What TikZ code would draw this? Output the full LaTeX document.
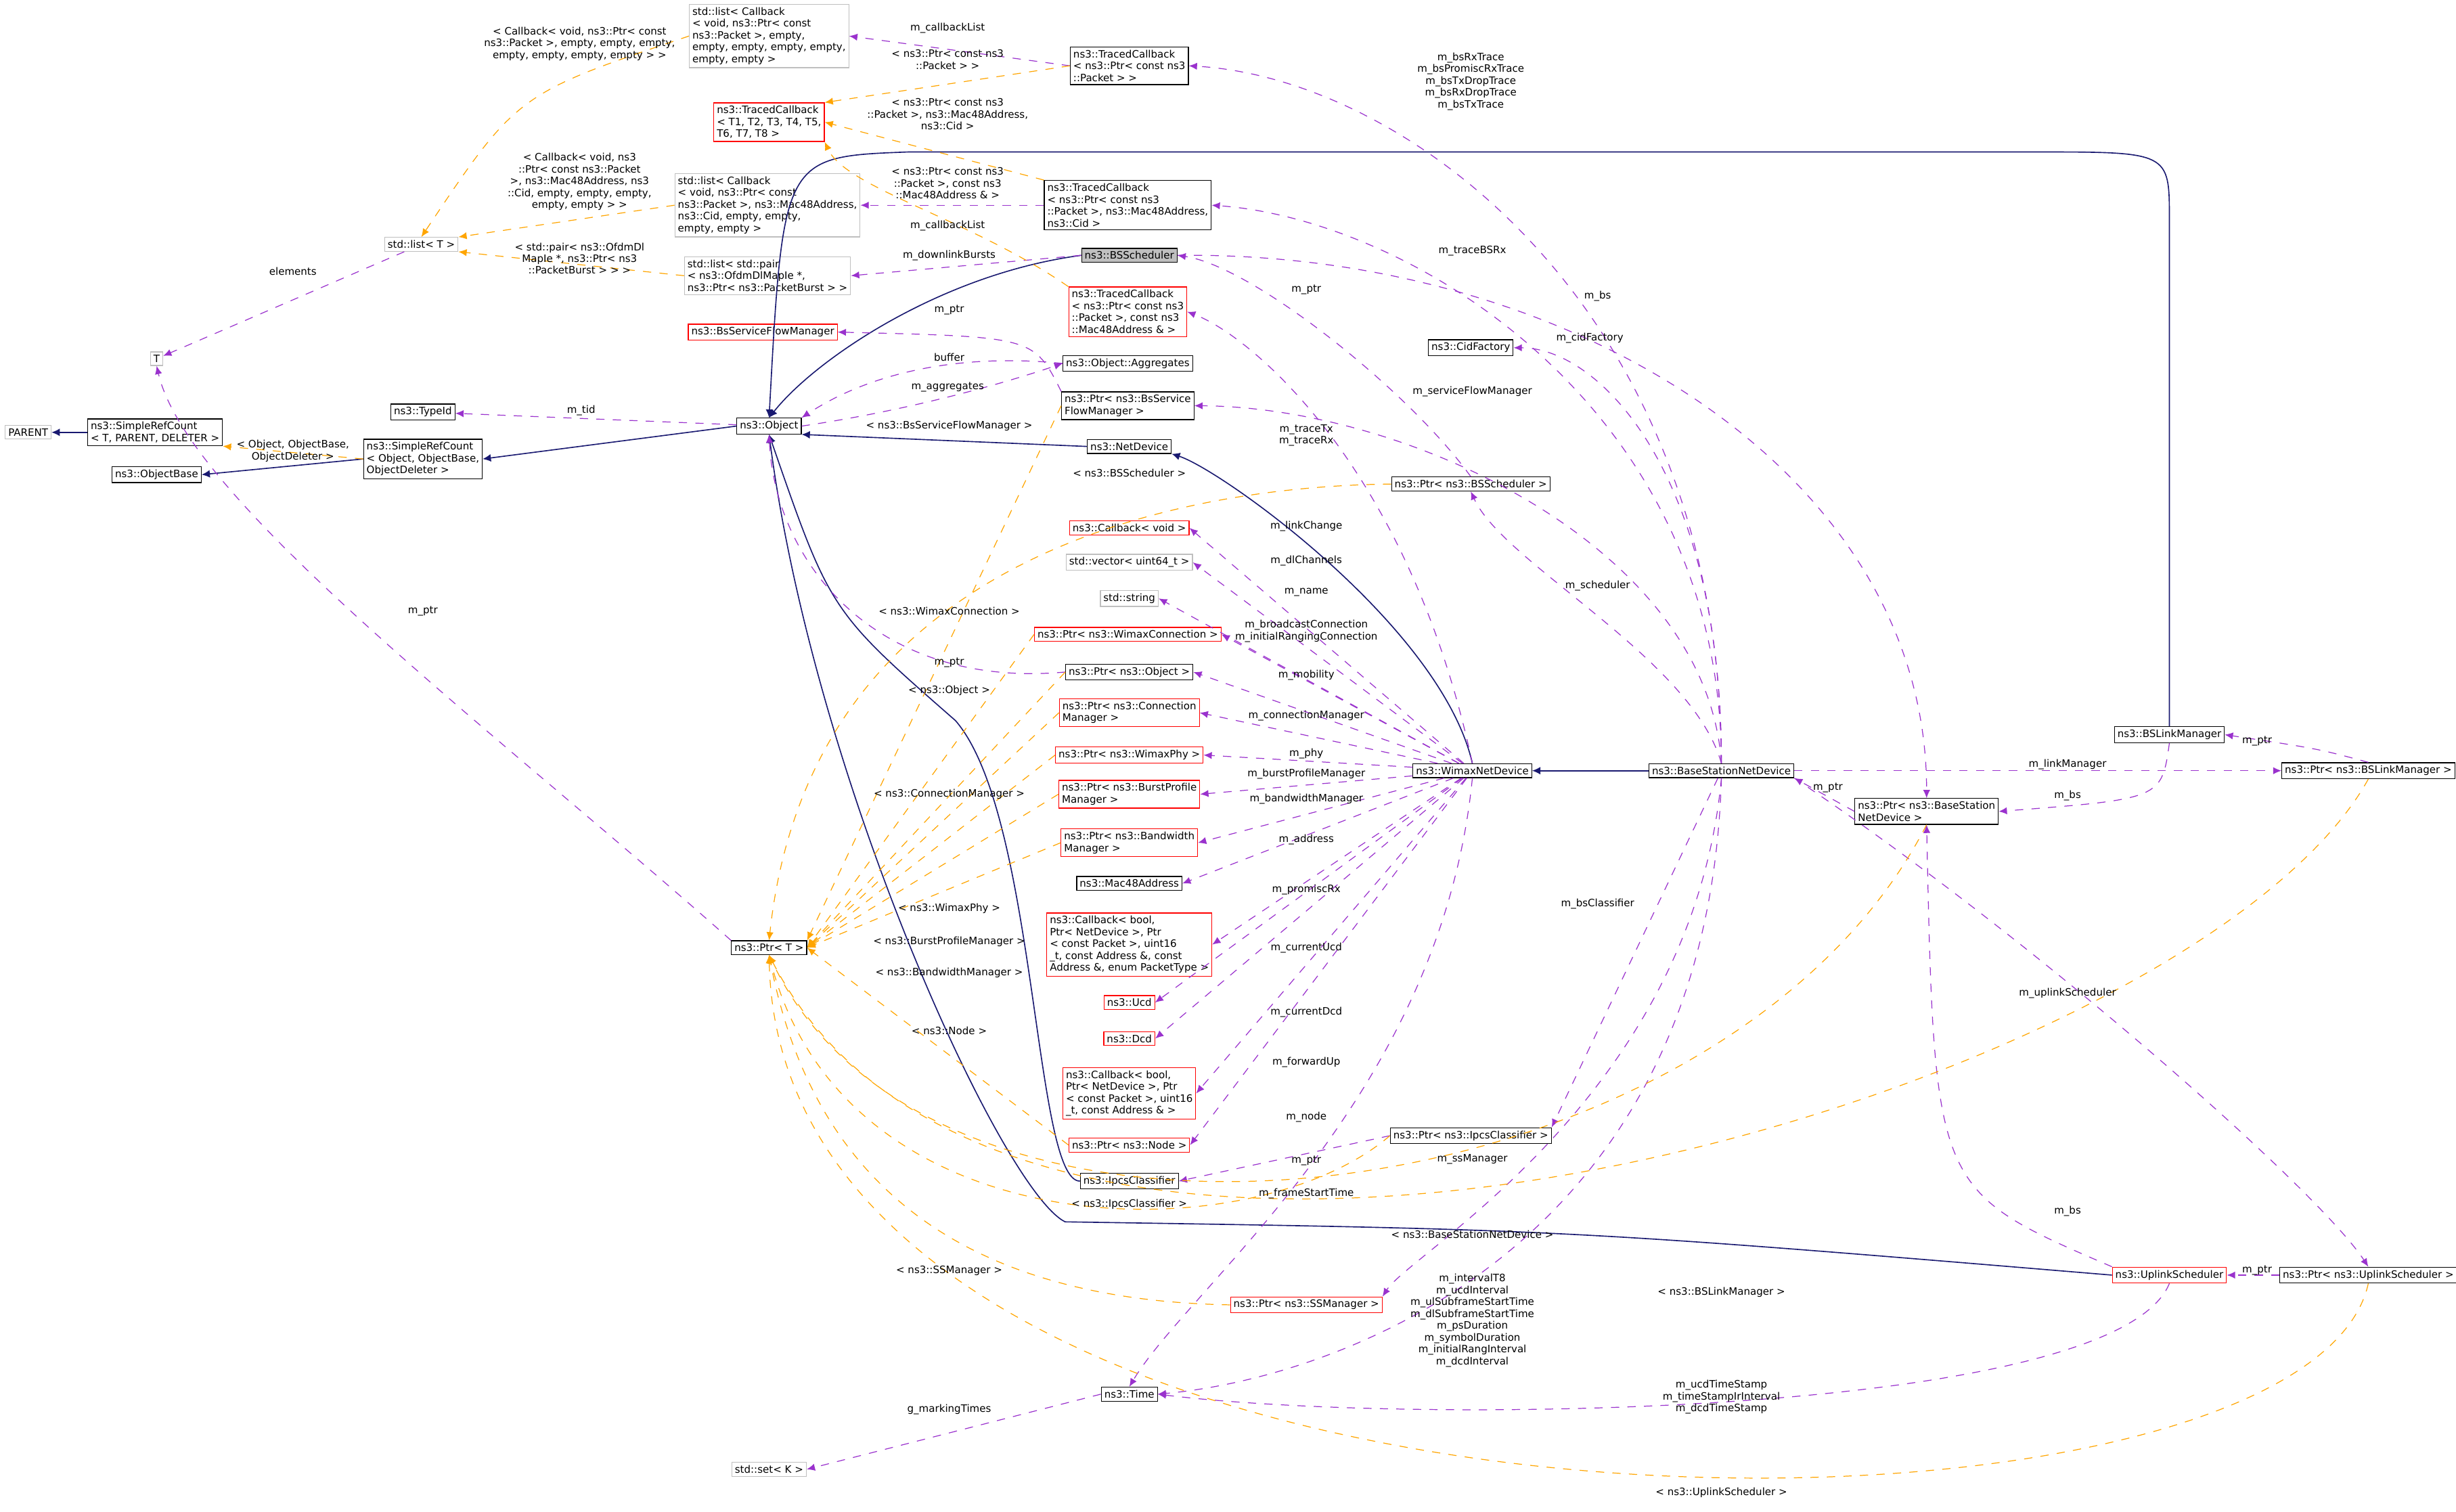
\documentclass[tikz,border=0pt]{standalone}
\usepackage{fontspec}
\setmainfont{DejaVu Sans}
\usetikzlibrary{arrows.meta}
\definecolor{mempurple}{HTML}{9A32CD}
\definecolor{tplorange}{HTML}{FFA500}
\definecolor{inhnavy}{HTML}{191970}
\definecolor{boxgray}{HTML}{BFBFBF}
\tikzset{
  cls/.style={draw=black, fill=white, inner sep=1.1pt, font=\fontsize{3.7}{4.3}\selectfont, align=left, line width=0.3pt},
  redcls/.style={cls, draw=red},
  graycls/.style={cls, draw=boxgray},
  curcls/.style={cls, fill=boxgray},
  lbl/.style={inner sep=0pt, font=\fontsize{3.7}{4.3}\selectfont, align=center},
  mem/.style={draw=mempurple, dashed, line width=0.3pt, -{Latex[length=3pt,width=2.6pt]}},
  tpl/.style={draw=tplorange, dashed, line width=0.3pt, -{Latex[length=3pt,width=2.6pt]}},
  inh/.style={draw=inhnavy, line width=0.4pt, -{Latex[length=3pt,width=2.8pt]}},
}
\begin{document}
\begin{tikzpicture}[x=0.02cm, y=-0.02cm]
\useasboundingbox (0,0) rectangle (1568,965);

% class boxes
\node[graycls] (cblist1) at (491,23) {std::list< Callback\\< void, ns3::Ptr< const\\ ns3::Packet >, empty,\\ empty, empty, empty, empty,\\ empty, empty >};
\node[cls] (tcb1) at (721,42) {ns3::TracedCallback\\< ns3::Ptr< const ns3\\::Packet > >};
\node[redcls] (tcbT) at (491,78) {ns3::TracedCallback\\< T1, T2, T3, T4, T5,\\ T6, T7, T8 >};
\node[graycls] (cblist2) at (490,131) {std::list< Callback\\< void, ns3::Ptr< const\\ ns3::Packet >, ns3::Mac48Address,\\ ns3::Cid, empty, empty,\\ empty, empty >};
\node[cls] (tcb2) at (720,131) {ns3::TracedCallback\\< ns3::Ptr< const ns3\\::Packet >, ns3::Mac48Address,\\ ns3::Cid >};
\node[graycls] (listT) at (269,156) {std::list< T >};
\node[graycls] (burstlist) at (490,176) {std::list< std::pair\\< ns3::OfdmDlMapIe *,\\ ns3::Ptr< ns3::PacketBurst > >};
\node[curcls] (bss) at (721,163) {ns3::BSScheduler};
\node[redcls] (tcb3) at (720,199) {ns3::TracedCallback\\< ns3::Ptr< const ns3\\::Packet >, const ns3\\::Mac48Address \& >};
\node[redcls] (bssfm) at (487,212) {ns3::BsServiceFlowManager};
\node[graycls] (T) at (100,229) {T};
\node[cls] (cidf) at (939,222) {ns3::CidFactory};
\node[cls] (aggr) at (720,232) {ns3::Object::Aggregates};
\node[cls] (pbssfm) at (720,259) {ns3::Ptr< ns3::BsService\\FlowManager >};
\node[cls] (typeid) at (270,263) {ns3::TypeId};
\node[cls] (object) at (491,272) {ns3::Object};
\node[graycls] (parent) at (18,276) {PARENT};
\node[cls] (src1) at (99,276) {ns3::SimpleRefCount\\< T, PARENT, DELETER >};
\node[cls] (src2) at (270,293) {ns3::SimpleRefCount\\< Object, ObjectBase,\\ ObjectDeleter >};
\node[cls] (netdev) at (721,285) {ns3::NetDevice};
\node[cls] (objbase) at (100,303) {ns3::ObjectBase};
\node[cls] (pbss) at (939,309) {ns3::Ptr< ns3::BSScheduler >};
\node[redcls] (cbvoid) at (721,337) {ns3::Callback< void >};
\node[graycls] (vec) at (721,359) {std::vector< uint64\_t >};
\node[graycls] (str) at (721,382) {std::string};
\node[redcls] (pwc) at (720,405) {ns3::Ptr< ns3::WimaxConnection >};
\node[cls] (pobj) at (721,429) {ns3::Ptr< ns3::Object >};
\node[redcls] (pcm) at (721,455) {ns3::Ptr< ns3::Connection\\Manager >};
\node[redcls] (pwp) at (721,482) {ns3::Ptr< ns3::WimaxPhy >};
\node[redcls] (pbpm) at (721,507) {ns3::Ptr< ns3::BurstProfile\\Manager >};
\node[redcls] (pbm) at (721,538) {ns3::Ptr< ns3::Bandwidth\\Manager >};
\node[cls] (mac) at (721,564) {ns3::Mac48Address};
\node[redcls] (cbbool1) at (721,603) {ns3::Callback< bool,\\ Ptr< NetDevice >, Ptr\\< const Packet >, uint16\\\_t, const Address \&, const\\ Address \&, enum PacketType >};
\node[redcls] (ucd) at (721,640) {ns3::Ucd};
\node[redcls] (dcd) at (721,663) {ns3::Dcd};
\node[redcls] (cbbool2) at (721,698) {ns3::Callback< bool,\\ Ptr< NetDevice >, Ptr\\< const Packet >, uint16\\\_t, const Address \& >};
\node[redcls] (pnode) at (721,731) {ns3::Ptr< ns3::Node >};
\node[cls] (ipcs) at (721,754) {ns3::IpcsClassifier};
\node[cls] (pipcs) at (939,725) {ns3::Ptr< ns3::IpcsClassifier >};
\node[cls] (ptrT) at (491,605) {ns3::Ptr< T >};
\node[cls] (wnd) at (940,492) {ns3::WimaxNetDevice};
\node[cls] (bsnd) at (1099,492) {ns3::BaseStationNetDevice};
\node[cls] (bslm) at (1385,469) {ns3::BSLinkManager};
\node[cls] (pbsnd) at (1230,518) {ns3::Ptr< ns3::BaseStation\\NetDevice >};
\node[cls] (pbslm) at (1512,492) {ns3::Ptr< ns3::BSLinkManager >};
\node[redcls] (pss) at (834,833) {ns3::Ptr< ns3::SSManager >};
\node[redcls] (ulsch) at (1385,814) {ns3::UplinkScheduler};
\node[cls] (pulsch) at (1512,814) {ns3::Ptr< ns3::UplinkScheduler >};
\node[cls] (time) at (721,890) {ns3::Time};
\node[graycls] (setK) at (491,938) {std::set< K >};

% inheritance
\draw[inh] (src1) -- (parent);
\draw[inh] (src2.west) -- (objbase.east);
\draw[inh] (object.west) -- (src2.east);
\draw[inh] (netdev.west) -- (object.south east);
\draw[inh] (wnd.north) .. controls (920,400) and (780,300) .. (netdev.south east);
\draw[inh] (bsnd) -- (wnd);
\draw[inh] (bss.west) .. controls (600,175) and (520,230) .. (object.north);
\draw[inh] (bslm.north) -- (1385,140) .. controls (1385,97) .. (1300,97) -- (580,97) .. controls (500,100) .. (object.north);
\draw[inh] (ipcs.west) .. controls (660,754) and (662,520) .. (610,460) .. controls (530,390) .. (object.south);
\draw[inh] (ulsch.west) .. controls (1000,785) .. (680,780) .. controls (640,760) and (520,500) .. (object.south);

% members
\draw[mem] (tcb1.west) -- (cblist1.east);
\draw[mem] (tcb2.west) -- (cblist2.east);
\draw[mem] (bss.west) -- (burstlist.east);
\draw[mem] (listT) -- (T);
\draw[mem] (ptrT.north west) .. controls (320,470) and (120,320) .. (T.south);
\draw[mem] (object) -- (typeid);
\draw[mem] (object.east) .. controls (580,262) and (640,245) .. (aggr.west);
\draw[mem] (aggr.west) .. controls (620,226) and (560,235) .. (object.north east);
\draw[mem] (pbssfm.north west) .. controls (660,215) .. (bssfm.east);
\draw[mem] (pobj.west) .. controls (560,440) and (495,360) .. (object.south);
\draw[mem] (bsnd.north) .. controls (1099,200) and (900,50) .. (tcb1.east);
\draw[mem] (bsnd.north) .. controls (1099,260) and (900,140) .. (tcb2.east);
\draw[mem] (bsnd.north) .. controls (1099,300) and (1020,222) .. (cidf.east);
\draw[mem] (bsnd.north) .. controls (1090,350) and (900,260) .. (pbssfm.east);
\draw[mem] (bsnd.north) .. controls (1080,420) and (960,360) .. (pbss.south);
\draw[mem] (bss.east) .. controls (1000,160) and (1230,300) .. (pbsnd.north);
\draw[mem] (pbss.north) .. controls (900,250) and (800,170) .. (bss.east);
\draw[mem] (wnd.north) .. controls (900,300) and (800,215) .. (tcb3.east);
\foreach \tgt in {cbvoid,vec,str,pwc,pobj,pcm,pwp,pbpm,pbm,mac,cbbool1,ucd,dcd,cbbool2,pnode}
  \draw[mem] (wnd) -- (\tgt.east);
\draw[mem] (pipcs.west) -- (ipcs.east);
\draw[mem] (bsnd) -- (pipcs.north east);
\draw[mem] (wnd.south) .. controls (920,700) and (760,820) .. (time.north);
\draw[mem] (bsnd.south) .. controls (1080,700) and (900,800) .. (pss.north east);
\draw[mem] (bsnd.south) .. controls (1090,800) and (850,880) .. (time.east);
\draw[mem] (ulsch.south) .. controls (1350,905) and (900,910) .. (time.east);
\draw[mem] (time.west) -- (setK.east);
\draw[mem] (bsnd.east) -- (pbslm.west);
\draw[mem] (pbsnd.west) -- (bsnd.south east);
\draw[mem] (bslm.south) .. controls (1380,510) .. (pbsnd.east);
\draw[mem] (pbslm.north) .. controls (1480,478) .. (bslm.east);
\draw[mem] (ulsch.north west) .. controls (1235,760) .. (pbsnd.south);
\draw[mem] (pulsch.west) -- (ulsch.east);
\draw[mem] (bsnd.south east) .. controls (1300,600) and (1480,760) .. (pulsch.north);

% templates
\draw[tpl] (tcb1.west) -- (tcbT.north east);
\draw[tpl] (tcb2.north west) -- (tcbT.east);
\draw[tpl] (tcb3.north west) .. controls (620,140) and (540,120) .. (tcbT.south east);
\draw[tpl] (cblist1.west) .. controls (330,60) .. (listT.north);
\draw[tpl] (cblist2.west) -- (listT.north east);
\draw[tpl] (burstlist.west) -- (listT.south east);
\draw[tpl] (src2.west) -- (src1.south east);
\draw[tpl] (pbssfm.west) -- (ptrT.north east);
\draw[tpl] (pbss.west) .. controls (800,310) and (520,330) .. (ptrT.north);
\foreach \src in {pwc,pobj,pcm,pwp,pbpm,pbm,pnode}
  \draw[tpl] (\src.west) -- (ptrT.east);
\draw[tpl] (pipcs.west) .. controls (800,800) and (540,800) .. (ptrT.south);
\draw[tpl] (pss.west) .. controls (620,830) and (520,760) .. (ptrT.south);
\draw[tpl] (pbsnd.south) .. controls (1100,780) and (600,840) .. (ptrT.south);
\draw[tpl] (pbslm.south) .. controls (1400,700) and (650,920) .. (ptrT.south);
\draw[tpl] (pulsch.south) .. controls (1470,1010) and (500,1010) .. (ptrT.south);

% labels
\node[lbl] (l1) at (605,18) {m\_callbackList};
\node[lbl] (l2) at (605,144) {m\_callbackList};
\node[lbl] (l3) at (606,163) {m\_downlinkBursts};
\node[lbl] (l4) at (187,173) {elements};
\node[lbl] (l5) at (270,390) {m\_ptr};
\node[lbl] (l6) at (371,262) {m\_tid};
\node[lbl] (l7) at (606,228) {buffer};
\node[lbl] (l8) at (605,247) {m\_aggregates};
\node[lbl] (l9) at (606,198) {m\_ptr};
\node[lbl] (l10) at (939,52) {m\_bsRxTrace\\m\_bsPromiscRxTrace\\m\_bsTxDropTrace\\m\_bsRxDropTrace\\m\_bsTxTrace};
\node[lbl] (l11) at (940,160) {m\_traceBSRx};
\node[lbl] (l12) at (834,185) {m\_ptr};
\node[lbl] (l13) at (834,278) {m\_traceTx\\m\_traceRx};
\node[lbl] (l14) at (1020,189) {m\_bs};
\node[lbl] (l15) at (1015,216) {m\_cidFactory};
\node[lbl] (l16) at (940,250) {m\_serviceFlowManager};
\node[lbl] (l17) at (1020,374) {m\_scheduler};
\node[lbl] (l18) at (834,336) {m\_linkChange};
\node[lbl] (l19) at (834,358) {m\_dlChannels};
\node[lbl] (l20) at (834,378) {m\_name};
\node[lbl] (l21) at (834,403) {m\_broadcastConnection\\m\_initialRangingConnection};
\node[lbl] (l22) at (834,431) {m\_mobility};
\node[lbl] (l23) at (834,457) {m\_connectionManager};
\node[lbl] (l24) at (834,481) {m\_phy};
\node[lbl] (l25) at (834,494) {m\_burstProfileManager};
\node[lbl] (l26) at (834,510) {m\_bandwidthManager};
\node[lbl] (l27) at (834,536) {m\_address};
\node[lbl] (l28) at (834,568) {m\_promiscRx};
\node[lbl] (l29) at (834,605) {m\_currentUcd};
\node[lbl] (l30) at (834,646) {m\_currentDcd};
\node[lbl] (l31) at (834,678) {m\_forwardUp};
\node[lbl] (l32) at (834,713) {m\_node};
\node[lbl] (l33) at (834,741) {m\_ptr};
\node[lbl] (l34) at (1020,577) {m\_bsClassifier};
\node[lbl] (l35) at (834,762) {m\_frameStartTime};
\node[lbl] (l36) at (940,740) {m\_ssManager};
\node[lbl] (l37) at (940,843) {m\_intervalT8\\m\_ucdInterval\\m\_ulSubframeStartTime\\m\_dlSubframeStartTime\\m\_psDuration\\m\_symbolDuration\\m\_initialRangInterval\\m\_dcdInterval};
\node[lbl] (l38) at (1099,892) {m\_ucdTimeStamp\\m\_timeStampIrInterval\\m\_dcdTimeStamp};
\node[lbl] (l39) at (606,900) {g\_markingTimes};
\node[lbl] (l40) at (1320,488) {m\_linkManager};
\node[lbl] (l41) at (1167,503) {m\_ptr};
\node[lbl] (l42) at (1320,508) {m\_bs};
\node[lbl] (l43) at (1441,473) {m\_ptr};
\node[lbl] (l44) at (1320,773) {m\_bs};
\node[lbl] (l45) at (1441,811) {m\_ptr};
\node[lbl] (l46) at (1320,634) {m\_uplinkScheduler};
\node[lbl] (l47) at (606,423) {m\_ptr};
\node[lbl] (t1) at (605,38) {< ns3::Ptr< const ns3\\::Packet > >};
\node[lbl] (t2) at (605,73) {< ns3::Ptr< const ns3\\::Packet >, ns3::Mac48Address,\\ ns3::Cid >};
\node[lbl] (t3) at (605,117) {< ns3::Ptr< const ns3\\::Packet >, const ns3\\::Mac48Address \& >};
\node[lbl] (t4) at (370,28) {< Callback< void, ns3::Ptr< const\\ ns3::Packet >, empty, empty, empty,\\ empty, empty, empty, empty > >};
\node[lbl] (t5) at (370,116) {< Callback< void, ns3\\::Ptr< const ns3::Packet\\ >, ns3::Mac48Address, ns3\\::Cid, empty, empty, empty,\\ empty, empty > >};
\node[lbl] (t6) at (370,165) {< std::pair< ns3::OfdmDl\\MapIe *, ns3::Ptr< ns3\\::PacketBurst > > >};
\node[lbl] (t7) at (187,288) {< Object, ObjectBase,\\ ObjectDeleter >};
\node[lbl] (t8) at (606,272) {< ns3::BsServiceFlowManager >};
\node[lbl] (t9) at (721,302) {< ns3::BSScheduler >};
\node[lbl] (t10) at (606,390) {< ns3::WimaxConnection >};
\node[lbl] (t11) at (606,441) {< ns3::Object >};
\node[lbl] (t12) at (606,507) {< ns3::ConnectionManager >};
\node[lbl] (t13) at (606,580) {< ns3::WimaxPhy >};
\node[lbl] (t14) at (606,601) {< ns3::BurstProfileManager >};
\node[lbl] (t15) at (606,621) {< ns3::BandwidthManager >};
\node[lbl] (t16) at (606,658) {< ns3::Node >};
\node[lbl] (t17) at (721,769) {< ns3::IpcsClassifier >};
\node[lbl] (t18) at (606,811) {< ns3::SSManager >};
\node[lbl] (t19) at (940,788) {< ns3::BaseStationNetDevice >};
\node[lbl] (t20) at (1099,825) {< ns3::BSLinkManager >};
\node[lbl] (t21) at (1099,953) {< ns3::UplinkScheduler >};
\end{tikzpicture}
\end{document}
